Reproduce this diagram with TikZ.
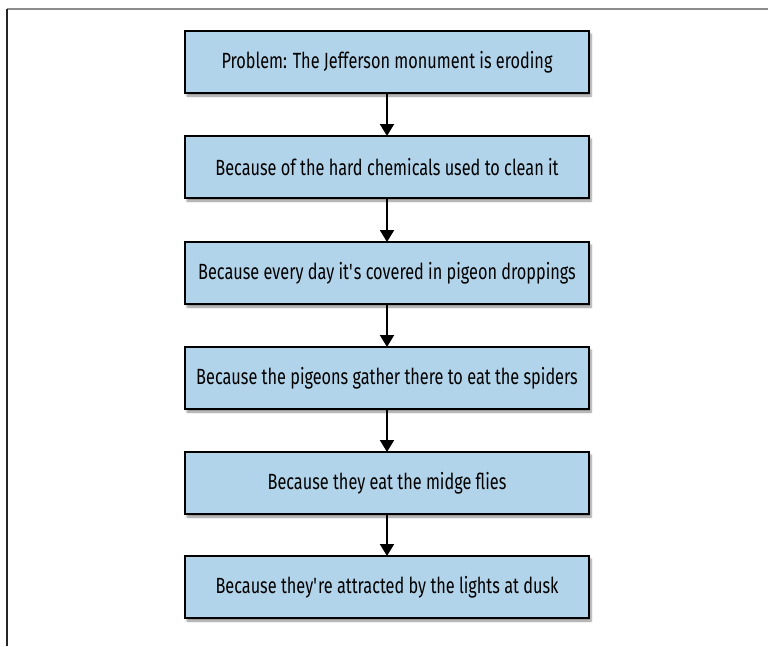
\documentclass[tikz,border=0pt]{standalone}
\usepackage{fontspec}
\setmainfont[FakeStretch=0.74]{Fira Sans}
\usetikzlibrary{arrows.meta,shadows.blur}
\definecolor{boxfill}{HTML}{B2D4EA}
\newcommand{\sq}{\textquotesingle}
\tikzset{
  whybox/.style={draw=black, line width=2pt, fill=boxfill,
    minimum width=404pt, minimum height=62pt, inner sep=0pt,
    font=\fontsize{22}{26}\selectfont,
    blur shadow={shadow xshift=2pt, shadow yshift=-3pt, shadow blur steps=6, shadow opacity=45}},
  link/.style={line width=2pt, -{Triangle[length=12pt, width=14pt]}, shorten >=-1pt}
}
\begin{document}
\begin{tikzpicture}[x=1pt, y=-1pt]
  \useasboundingbox (0,0) rectangle (768,646);
  % frame edges
  \draw[line width=2pt, gray!90] (7,9) -- (768,9);
  \draw[line width=1.5pt, black!85] (7,9) -- (7,646);
  % chain of causes
  \node[whybox] (p)  at (387,62)  {Problem: The Jefferson monument is eroding};
  \node[whybox] (c1) at (387,167) {Because of the hard chemicals used to clean it};
  \node[whybox] (c2) at (387,273) {Because every day it\sq s covered in pigeon droppings};
  \node[whybox] (c3) at (387,378) {Because the pigeons gather there to eat the spiders};
  \node[whybox] (c4) at (387,483) {Because they eat the midge flies};
  \node[whybox] (c5) at (387,587) {Because they\sq re attracted by the lights at dusk};
  \draw[link] (p)  -- (c1);
  \draw[link] (c1) -- (c2);
  \draw[link] (c2) -- (c3);
  \draw[link] (c3) -- (c4);
  \draw[link] (c4) -- (c5);
\end{tikzpicture}
\end{document}
